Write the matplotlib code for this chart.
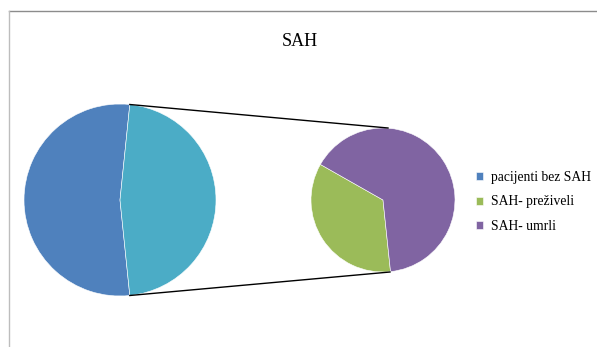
import matplotlib
matplotlib.use("Agg")
import matplotlib.pyplot as plt
import numpy as np
from matplotlib.lines import Line2D

title = "SAH"
categories = ["pacijenti bez SAH", "SAH- preživeli", "SAH- umrli"]
values = [49, 15, 28]
colors = ["#4F81BD", "#9BBB59", "#8064A2"]
other_color = "#4BACC6"

W, H = 597, 347
fig = plt.figure(figsize=(W / 100, H / 100), dpi=100)
ax = fig.add_axes([0, 0, 1, 1])

total = sum(values)
other = values[1] + values[2]
# main pie
c1 = (120, H - 200)
r1 = 96
half = other / total * 180.0
wm, _ = ax.pie([values[0], other], colors=[colors[0], other_color],
               startangle=half, counterclock=True, center=c1, radius=r1,
               wedgeprops=dict(edgecolor="white", linewidth=0.4), frame=True)
# secondary pie
c2 = (383, H - 200)
r2 = 72
green_deg = values[1] / other * 360.0
ws, _ = ax.pie([values[1], values[2]], colors=[colors[1], colors[2]],
               startangle=276 - green_deg, counterclock=True, center=c2, radius=r2,
               wedgeprops=dict(edgecolor="white", linewidth=0.4), frame=True)
ax.set_xlim(0, W)
ax.set_ylim(0, H)
ax.set_aspect("equal")
ax.axis("off")

# connector lines
a = np.deg2rad(half)
p_top = (c1[0] + r1 * np.cos(a), c1[1] + r1 * np.sin(a))
p_bot = (c1[0] + r1 * np.cos(a), c1[1] - r1 * np.sin(a))
q_top = (c2[0] + 5, c2[1] + r2)
q_bot = (c2[0] + 7, c2[1] - r2)
ax.plot([p_top[0], q_top[0]], [p_top[1], q_top[1]], color="black", lw=1.0)
ax.plot([p_bot[0], q_bot[0]], [p_bot[1], q_bot[1]], color="black", lw=1.0)

# title
fig.text(300 / W, 1 - 41 / H, title, ha="center", va="center",
         fontsize=13, family="Liberation Serif")

# legend
handles = [wm[0], ws[0], ws[1]]
leg = fig.legend(handles, categories, loc="upper left",
                 bbox_to_anchor=(465 / W, 1 - 160 / H),
                 frameon=False, handlelength=0.55, handleheight=0.55,
                 handletextpad=0.55, labelspacing=0.85, borderpad=0.3,
                 prop=dict(family="Liberation Serif", size=9.8))

# frame lines
fig.add_artist(Line2D([9 / W, 1], [1 - 11 / H, 1 - 11 / H], color="#8c8c8c", lw=1.0))
fig.add_artist(Line2D([9 / W, 9 / W], [0, 1 - 11 / H], color="#bdbdbd", lw=1.0))

fig.savefig("out.png", dpi=100)
